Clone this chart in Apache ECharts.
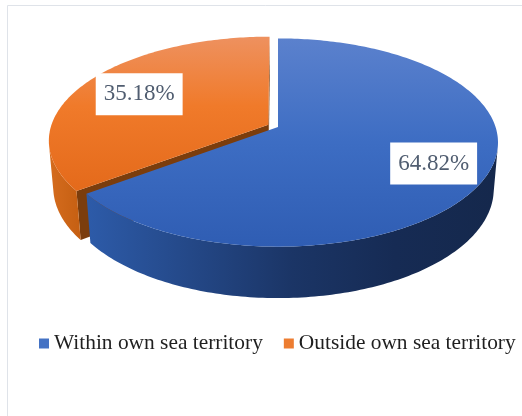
<!DOCTYPE html>
<html>
<head>
<meta charset="utf-8">
<script src="https://cdn.jsdelivr.net/npm/echarts@6/dist/echarts.min.js"></script>
<style>
  html, body { margin: 0; padding: 0; background: #ffffff; }
  #chart { width: 522px; height: 416px; }
</style>
</head>
<body>
<div id="chart"></div>
<script>
// Slice data
const categories = ['Within own sea territory', 'Outside own sea territory'];
const shares = [64.82, 35.18];

// Styling per slice
const legendColors = ['#4472C4', '#ED7D31'];
const explode = [0, 0.05];          // radial offset of each slice (pie radius = 1)
const labelRadius = [0.76, 0.7];    // where the value label sits along the slice mid-angle
const topFills = [
  [[0, '#5b81cd'], [0.5, '#3d6dc3'], [1, '#2f5db3']],
  [[0, '#ee915f'], [0.45, '#f07a2a'], [1, '#e46a1b']]
];
const sideFills = [
  [[0, '#2d5ba9'], [0.5, '#1b3566'], [0.75, '#162b54'], [1, '#15284c']],
  [[0, '#d56c1e'], [1, '#c55f12']]
];
const cutFills = ['#1d3868', '#7b3d0d'];

// Perspective camera for the tilted disc
const cx = 278, cy = 127;
const sinP = 0.468, cosP = Math.sqrt(1 - sinP * sinP);
const D = 5.93, f = 1290, thick = 0.245;
const cam = [0, -D * cosP, D * sinP];

function project(x, y, z) {
  const up = z * cosP + y * sinP;
  const depth = D + y * cosP - z * sinP;
  return [cx + f * x / depth, cy - f * up / depth];
}
const rad = (deg) => deg * Math.PI / 180;
const total = shares.reduce((s, v) => s + v, 0);

function grad(stops, horizontal) {
  return {
    type: 'linear', x: 0, y: 0, x2: horizontal ? 1 : 0, y2: horizontal ? 0 : 1,
    colorStops: stops.map(s => ({ offset: s[0], color: s[1] }))
  };
}

function makeRender(i) {
  return function (params, api) {
    const value = api.value(0);
    let before = 0;
    for (let k = 0; k < i; k++) before += shares[k];
    const a1 = before / total * 360;
    const a2 = (before + value) / total * 360;
    const mid = rad((a1 + a2) / 2);
    const ox = explode[i] * Math.sin(mid), oy = explode[i] * Math.cos(mid);
    const rimPt = (a, z) => project(ox + Math.sin(rad(a)), oy + Math.cos(rad(a)), z);

    const children = [];

    // outer rim: keep the part facing the camera
    const vis = [];
    const steps = Math.max(2, Math.ceil(a2 - a1));
    for (let s = 0; s <= steps; s++) {
      const a = a1 + (a2 - a1) * s / steps;
      const nx = Math.sin(rad(a)), ny = Math.cos(rad(a));
      const px = ox + nx, py = oy + ny;
      const dot = nx * (cam[0] - px) + ny * (cam[1] - py);
      if (dot > 0) vis.push(a);
    }
    if (vis.length > 1) {
      const pts = vis.map(a => rimPt(a, 0)).concat(vis.slice().reverse().map(a => rimPt(a, -thick)));
      children.push({ type: 'polygon', z2: 1, shape: { points: pts }, style: { fill: grad(sideFills[i], true) } });
    }

    // flat cut faces along the two radii
    [[a1, -1], [a2, 1]].forEach(([a, sgn]) => {
      const nx = sgn * Math.cos(rad(a)), ny = -sgn * Math.sin(rad(a));
      const dot = nx * (cam[0] - ox) + ny * (cam[1] - oy);
      if (dot > 1e-6) {
        const pts = [project(ox, oy, 0), rimPt(a, 0), rimPt(a, -thick), project(ox, oy, -thick)];
        children.push({ type: 'polygon', z2: 0, shape: { points: pts }, style: { fill: cutFills[i] } });
      }
    });

    // top face
    const topPts = [project(ox, oy, 0)];
    for (let s = 0; s <= steps; s++) topPts.push(rimPt(a1 + (a2 - a1) * s / steps, 0));
    children.push({ type: 'polygon', z2: 2, shape: { points: topPts }, style: { fill: grad(topFills[i], false) } });

    // value label
    const lr = labelRadius[i];
    const lp = project(ox + lr * Math.sin(mid), oy + lr * Math.cos(mid), 0);
    children.push({
      type: 'text', z2: 3, x: lp[0], y: lp[1],
      style: {
        text: value.toFixed(2) + '%',
        font: '23px "Liberation Serif", "Times New Roman", serif',
        fill: '#505d70', align: 'center', verticalAlign: 'middle',
        backgroundColor: '#ffffff', padding: [9, 8, 9, 8], lineHeight: 24
      }
    });
    return { type: 'group', children };
  };
}

const chart = echarts.init(document.getElementById('chart'), null, { renderer: 'canvas' });
chart.setOption({
  animation: false,
  backgroundColor: '#ffffff',
  graphic: [{
    type: 'rect', silent: true,
    shape: { x: 7.5, y: 5.5, width: 540, height: 440 },
    style: { fill: 'none', stroke: '#dfe3e9', lineWidth: 1 }
  }],
  legend: {
    left: 34, top: 328,
    icon: 'rect', itemWidth: 10, itemHeight: 10, itemGap: 21,
    selectedMode: false,
    textStyle: { fontFamily: '"Liberation Serif", "Times New Roman", serif', fontSize: 21.4, color: '#1f1f1f' },
    data: categories
  },
  series: categories.map((name, i) => ({
    type: 'custom', name, coordinateSystem: 'none', silent: true,
    z: i === 0 ? 3 : 2,
    itemStyle: { color: legendColors[i] },
    data: [shares[i]],
    renderItem: makeRender(i)
  }))
});
</script>
</body>
</html>
